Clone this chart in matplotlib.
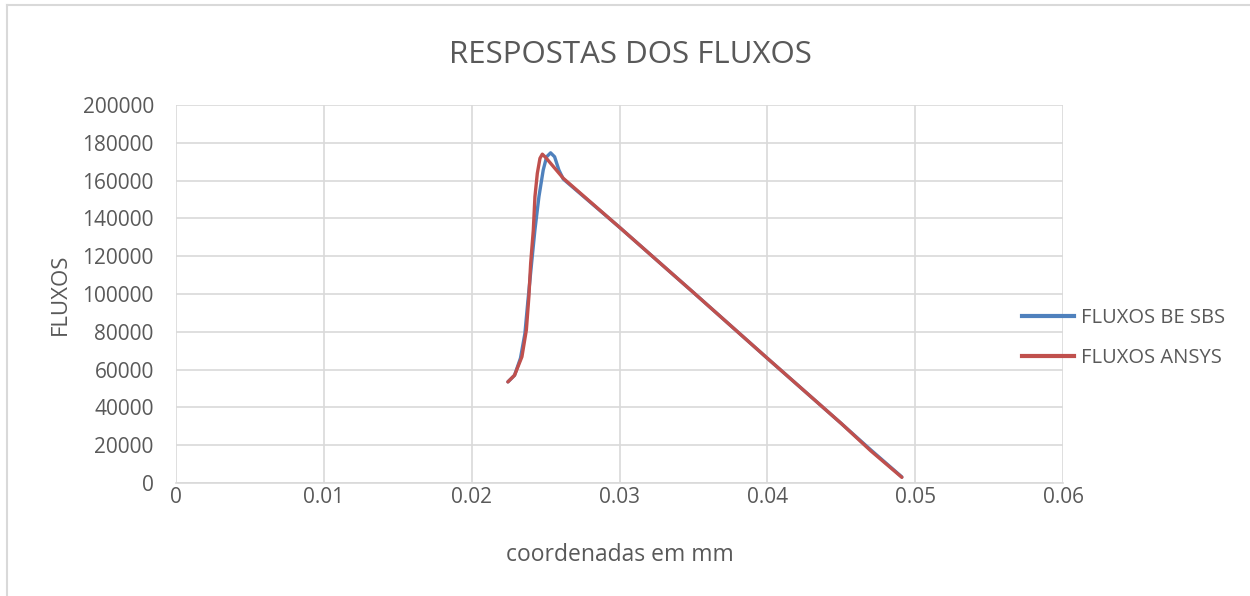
import matplotlib.pyplot as plt
from matplotlib.lines import Line2D

plt.rcParams['font.family'] = ['Open Sans', 'DejaVu Sans']

TEXT_COLOR = '#595959'
GRID_COLOR = '#d9d9d9'

# FLUXOS BE SBS
x_sbs = [0.02245, 0.0229, 0.0233, 0.0236, 0.0238, 0.02405, 0.02428, 0.02455,
         0.02484, 0.02507, 0.02534, 0.02561, 0.0259, 0.0262, 0.0300, 0.0350,
         0.0400, 0.0450, 0.0470, 0.0491]
y_sbs = [53500, 57000, 66000, 79000, 96000, 116000, 134000, 151500,
         165600, 172600, 174700, 172600, 165600, 160800, 135300, 100800,
         66000, 31500, 17500, 3200]

# FLUXOS ANSYS
x_ansys = [0.02245, 0.0229, 0.0234, 0.0237, 0.02387, 0.02399, 0.02417, 0.02428,
           0.02444, 0.02462, 0.02478, 0.0250, 0.0262, 0.0300, 0.0350,
           0.0400, 0.0450, 0.0470, 0.0491]
y_ansys = [53500, 57000, 66800, 81000, 98600, 116200, 133800, 151500,
           163800, 171800, 174000, 172300, 161200, 135300, 100800,
           66000, 31500, 17000, 3000]

x_ticks = [0, 0.01, 0.02, 0.03, 0.04, 0.05, 0.06]
x_tick_labels = ['0', '0.01', '0.02', '0.03', '0.04', '0.05', '0.06']
y_ticks = list(range(0, 200001, 20000))

fig = plt.figure(figsize=(12.5, 5.96), dpi=100)
ax = fig.add_axes([0.1408, 0.1896, 0.7096, 0.6342])

ax.plot(x_sbs, y_sbs, color='#4F81BD', linewidth=2.4, solid_capstyle='round',
        label='FLUXOS BE SBS')
ax.plot(x_ansys, y_ansys, color='#C0504D', linewidth=2.4, solid_capstyle='round',
        label='FLUXOS ANSYS')

ax.set_xlim(0, 0.06)
ax.set_ylim(0, 200000)
ax.set_xticks(x_ticks)
ax.set_xticklabels(x_tick_labels)
ax.set_yticks(y_ticks)
ax.set_yticklabels([str(v) for v in y_ticks])

ax.grid(True, color=GRID_COLOR, linewidth=1.2)
ax.set_axisbelow(True)
for side in ['top', 'right', 'left']:
    ax.spines[side].set_visible(False)
ax.spines['bottom'].set_color(GRID_COLOR)
ax.spines['bottom'].set_linewidth(1.2)
ax.tick_params(length=0, labelsize=15, labelcolor=TEXT_COLOR)
ax.tick_params(axis='y', pad=16)
ax.tick_params(axis='x', pad=3)

ax.set_xlabel('coordenadas em mm', fontsize=16.5, color=TEXT_COLOR, labelpad=25)
ax.set_ylabel('FLUXOS', fontsize=16, color=TEXT_COLOR, labelpad=8)
fig.text(0.504, 0.908, 'RESPOSTAS DOS FLUXOS', ha='center', va='center',
         fontsize=22.5, color=TEXT_COLOR)

handles = [Line2D([], [], color='#4F81BD', linewidth=3),
           Line2D([], [], color='#C0504D', linewidth=3)]
fig.legend(handles, ['FLUXOS BE SBS', 'FLUXOS ANSYS'], loc='center left',
           bbox_to_anchor=(0.803, 0.433), frameon=False, fontsize=14.5,
           labelcolor=TEXT_COLOR, handlelength=2.6, handletextpad=0.35,
           labelspacing=1.0)

# chart area border
fig.add_artist(Line2D([0.0056, 0.0056], [0.0, 0.9916], color=GRID_COLOR,
                      linewidth=1.5, transform=fig.transFigure))
fig.add_artist(Line2D([0.0056, 1.0], [0.9916, 0.9916], color=GRID_COLOR,
                      linewidth=1.5, transform=fig.transFigure))

fig.savefig('out.png', dpi=100, facecolor='white')
